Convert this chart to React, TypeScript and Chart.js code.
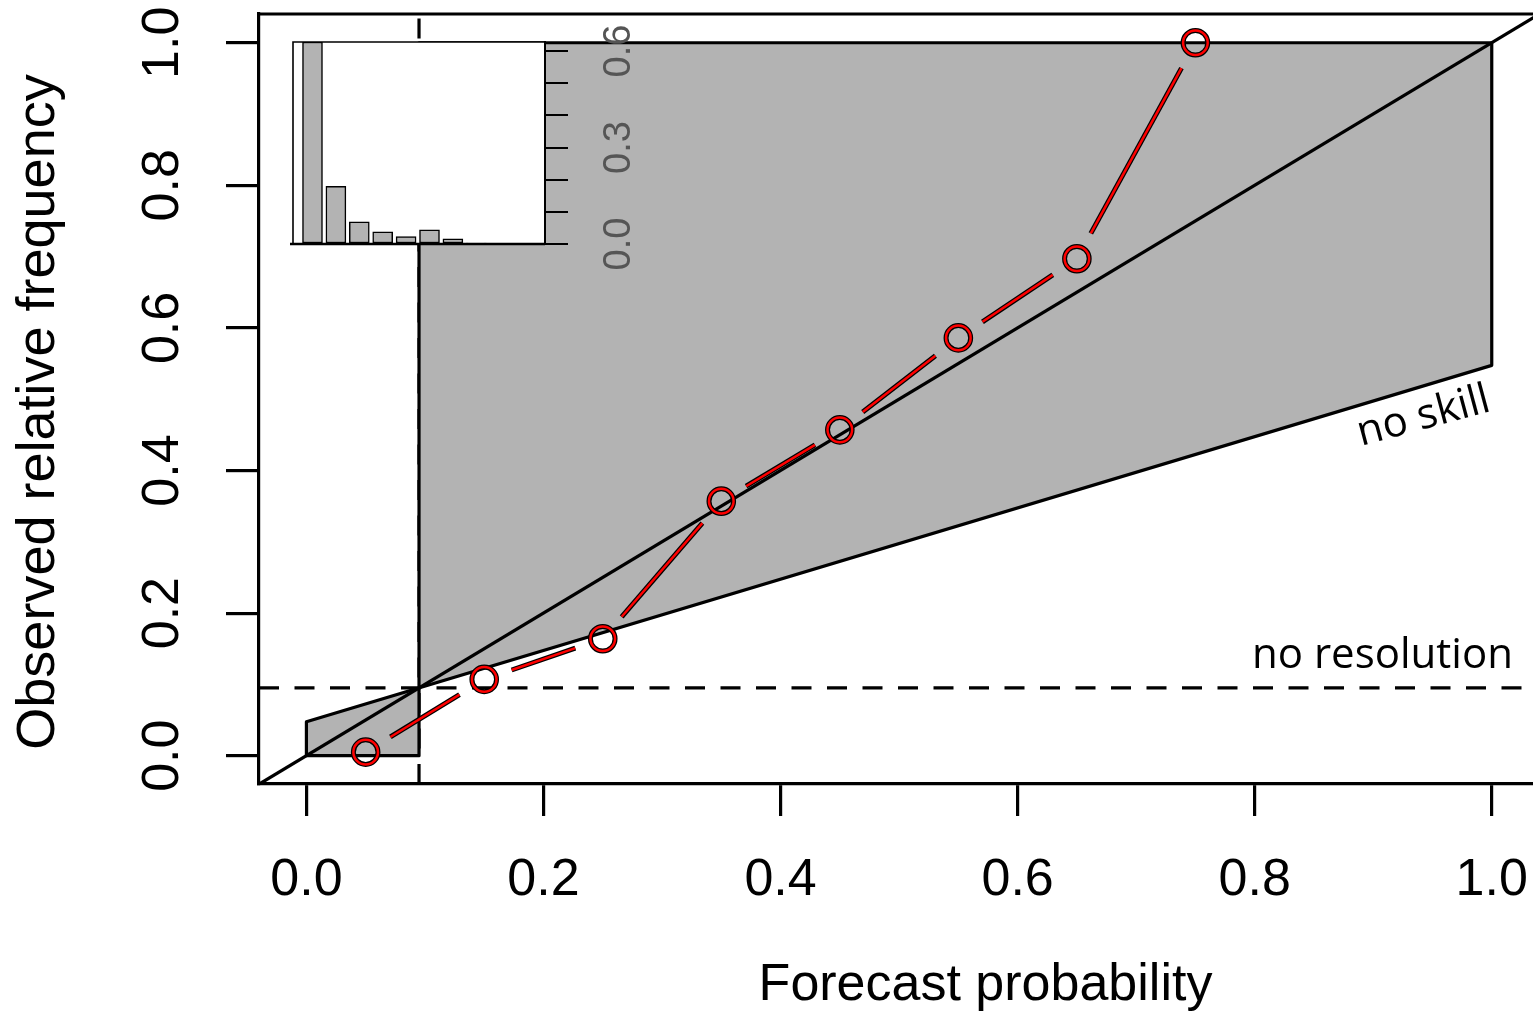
import React, { useEffect, useRef } from 'react';
import { Chart, registerables } from 'chart.js';

Chart.register(...registerables);

// ---------------- data ----------------
const forecastProb = [0.05, 0.15, 0.25, 0.35, 0.45, 0.55, 0.65, 0.75];
const observedFreq = [0.005, 0.107, 0.164, 0.357, 0.457, 0.586, 0.697, 1.0];
const climatology = 0.095;
const axisTicks = [0, 0.2, 0.4, 0.6, 0.8, 1.0];

const histBinCenters = [0.05, 0.15, 0.25, 0.35, 0.45, 0.55, 0.65, 0.75, 0.85, 0.95];
const histRelFreq = [0.628, 0.179, 0.069, 0.038, 0.023, 0.044, 0.016, 0.003, 0, 0];
const histTicks = [0, 0.1, 0.2, 0.3, 0.4, 0.5, 0.6];
const histLabelledTicks = [0, 0.3, 0.6];

const xTitle = 'Forecast probability';
const yTitle = 'Observed relative frequency';
const noSkillLabel = 'no skill';
const noResolutionLabel = 'no resolution';

// ---------------- styling ----------------
const X_MIN = -0.04;
const X_MAX = 1.0348;
const Y_MIN = -0.0397;
const Y_MAX = 1.0403;
const GRAY = '#B3B3B3';
const FONT = '"Liberation Sans", Arial, Helvetica, sans-serif';
const NOTE_FONT = '"Open Sans", "Noto Sans", sans-serif';
const GAP = 29;
const LW = 3.2;

const gapDash = (ctx: any) => {
  const dx = ctx.p1.x - ctx.p0.x;
  const dy = ctx.p1.y - ctx.p0.y;
  const L = Math.hypot(dx, dy);
  const on = Math.max(L - 2 * GAP, 0);
  return [0, GAP, on, L + GAP + 10];
};

const noSkillAt = (x: number) => climatology + (x - climatology) / 2;

function mainConfig(): any {
  const relPoints = forecastProb.map((x, i) => ({ x, y: observedFreq[i] }));
  const polygon = [
    { x: climatology, y: 0 },
    { x: climatology, y: 1 },
    { x: 1, y: 1 },
    { x: 1, y: noSkillAt(1) },
    { x: 0, y: noSkillAt(0) },
    { x: 0, y: 0 },
    { x: climatology, y: 0 },
  ];
  const fmt = (v: any) => Number(v).toFixed(1);

  const decor = {
    id: 'decor',
    afterDatasetsDraw(chart: any) {
      const { ctx, chartArea } = chart;
      ctx.save();
      ctx.strokeStyle = '#000';
      ctx.lineWidth = LW;
      ctx.beginPath();
      ctx.moveTo(chartArea.left - 1.5, chartArea.top);
      ctx.lineTo(chartArea.right + 2, chartArea.top);
      ctx.stroke();
      ctx.restore();
    },
    afterDraw(chart: any) {
      const ctx = chart.ctx;
      ctx.save();
      ctx.fillStyle = '#000';
      ctx.textAlign = 'center';
      ctx.textBaseline = 'alphabetic';
      ctx.font = `52px ${FONT}`;
      ctx.fillText(xTitle, 985.5, 1000);
      ctx.save();
      ctx.translate(54, 412);
      ctx.rotate(-Math.PI / 2);
      ctx.font = `54px ${FONT}`;
      ctx.fillText(yTitle, 0, 0);
      ctx.restore();

      ctx.font = `42px ${NOTE_FONT}`;
      ctx.textAlign = 'left';
      ctx.fillText(noResolutionLabel, 1252, 668);
      ctx.save();
      ctx.translate(1361, 446);
      ctx.rotate((-15 * Math.PI) / 180);
      ctx.fillText(noSkillLabel, 0, 0);
      ctx.restore();
      ctx.restore();
    },
  };

  return {
    type: 'line',
    data: {
      datasets: [
        {
          label: 'reliability',
          data: relPoints,
          borderColor: '#ff0000',
          borderWidth: 2.5,
          pointRadius: 12.3,
          pointHoverRadius: 12.3,
          pointBorderWidth: 2.5,
          pointBorderColor: '#ff0000',
          pointBackgroundColor: 'rgba(0,0,0,0)',
          segment: { borderDash: gapDash },
          fill: false,
          tension: 0,
          order: 1,
        },
        {
          label: 'reliability-outline',
          data: relPoints,
          borderColor: '#000',
          borderWidth: 5,
          pointRadius: 12.3,
          pointHoverRadius: 12.3,
          pointBorderWidth: 5,
          pointBorderColor: '#000',
          pointBackgroundColor: 'rgba(0,0,0,0)',
          segment: { borderDash: gapDash },
          fill: false,
          tension: 0,
          order: 2,
        },
        {
          label: 'perfect',
          data: [
            { x: -0.1, y: -0.1 },
            { x: 1.1, y: 1.1 },
          ],
          borderColor: '#000',
          borderWidth: LW,
          pointRadius: 0,
          fill: false,
          order: 3,
        },
        {
          label: 'no-skill region',
          data: polygon,
          borderColor: '#000',
          borderWidth: LW,
          backgroundColor: GRAY,
          borderJoinStyle: 'round',
          borderCapStyle: 'round',
          pointRadius: 0,
          fill: 'shape',
          tension: 0,
          order: 4,
        },
        {
          label: 'no resolution',
          data: [
            { x: X_MIN, y: climatology },
            { x: X_MAX, y: climatology },
          ],
          borderColor: '#000',
          borderWidth: LW,
          borderDash: [20, 15.5],
          pointRadius: 0,
          fill: false,
          order: 5,
        },
        {
          label: 'climatology',
          data: [
            { x: climatology, y: Y_MIN },
            { x: climatology, y: Y_MAX },
          ],
          borderColor: '#000',
          borderWidth: LW,
          borderDash: [20, 15.5],
          pointRadius: 0,
          fill: false,
          order: 6,
        },
      ],
    },
    options: {
      animation: false,
      responsive: false,
      devicePixelRatio: 1,
      events: [],
      layout: { autoPadding: false, padding: { top: 14, left: 0, right: 0, bottom: 0 } },
      plugins: { legend: { display: false }, tooltip: { enabled: false } },
      scales: {
        x: {
          type: 'linear',
          min: X_MIN,
          max: X_MAX,
          afterBuildTicks: (s: any) => {
            s.ticks = axisTicks.map((v) => ({ value: v }));
          },
          afterFit: (s: any) => {
            s.height = 230;
            s.paddingLeft = 0;
            s.paddingRight = 0;
          },
          ticks: {
            callback: fmt,
            autoSkip: false,
            maxRotation: 0,
            minRotation: 0,
            padding: 33,
            color: '#000',
            font: { family: FONT, size: 52 },
          },
          grid: { drawOnChartArea: false, drawTicks: true, tickLength: 32, color: '#000', lineWidth: LW },
          border: { display: true, color: '#000', width: LW },
        },
        y: {
          type: 'linear',
          min: Y_MIN,
          max: Y_MAX,
          afterBuildTicks: (s: any) => {
            s.ticks = axisTicks.map((v) => ({ value: v }));
          },
          afterFit: (s: any) => {
            s.width = 259;
            s.paddingTop = 0;
            s.paddingBottom = 0;
          },
          ticks: {
            callback: fmt,
            autoSkip: false,
            minRotation: 90,
            maxRotation: 90,
            crossAlign: 'center',
            padding: 26,
            color: '#000',
            font: { family: FONT, size: 52 },
          },
          grid: { drawOnChartArea: false, drawTicks: true, tickLength: 33, color: '#000', lineWidth: LW },
          border: { display: true, color: '#000', width: LW },
        },
      },
    },
    plugins: [decor],
  };
}

function insetConfig(): any {
  const bars = histBinCenters.map((x, i) => ({ x, y: histRelFreq[i] }));
  const frame = {
    id: 'insetFrame',
    beforeDraw(chart: any) {
      const { ctx, chartArea } = chart;
      ctx.save();
      ctx.fillStyle = '#fff';
      ctx.fillRect(chartArea.left, chartArea.top, chartArea.right - chartArea.left, chartArea.bottom - chartArea.top);
      ctx.restore();
    },
    afterDatasetsDraw(chart: any) {
      const { ctx, chartArea } = chart;
      ctx.save();
      ctx.strokeStyle = '#000';
      ctx.lineWidth = 1.6;
      ctx.beginPath();
      ctx.moveTo(chartArea.left, chartArea.bottom);
      ctx.lineTo(chartArea.left, chartArea.top);
      ctx.lineTo(chartArea.right, chartArea.top);
      ctx.stroke();
      ctx.lineWidth = 2.6;
      ctx.beginPath();
      ctx.moveTo(chartArea.left - 3, chartArea.bottom);
      ctx.lineTo(chartArea.right, chartArea.bottom);
      ctx.stroke();
      ctx.restore();
    },
  };
  return {
    type: 'bar',
    data: {
      datasets: [
        {
          label: 'forecast frequency',
          data: bars,
          backgroundColor: GRAY,
          borderColor: '#000',
          borderWidth: 1.5,
          borderSkipped: false,
          barThickness: 20,
        },
      ],
    },
    options: {
      animation: false,
      responsive: false,
      devicePixelRatio: 1,
      events: [],
      layout: { autoPadding: false, padding: { left: 13, top: 42, right: 0, bottom: 46 } },
      plugins: { legend: { display: false }, tooltip: { enabled: false } },
      scales: {
        x: { type: 'linear', min: -0.0333, max: 1.0436, display: false, offset: false },
        y: {
          type: 'linear',
          position: 'right',
          min: 0,
          max: 0.628,
          afterBuildTicks: (s: any) => {
            s.ticks = histTicks.map((v) => ({ value: v }));
          },
          afterFit: (s: any) => {
            s.width = 115;
            s.paddingTop = 0;
            s.paddingBottom = 0;
          },
          ticks: {
            callback: (v: any) =>
              histLabelledTicks.some((t) => Math.abs(t - Number(v)) < 1e-6) ? Number(v).toFixed(1) : '',
            autoSkip: false,
            minRotation: 90,
            maxRotation: 90,
            crossAlign: 'center',
            padding: 25,
            color: '#555',
            font: { family: FONT, size: 38 },
          },
          grid: { drawOnChartArea: false, drawTicks: true, tickLength: 23, color: '#000', lineWidth: 2 },
          border: { display: true, color: '#000', width: 2 },
        },
      },
    },
    plugins: [frame],
  };
}

export default function App() {
  const mainRef = useRef<HTMLCanvasElement>(null);
  const insetRef = useRef<HTMLCanvasElement>(null);

  useEffect(() => {
    const main = new Chart(mainRef.current as HTMLCanvasElement, mainConfig());
    const inset = new Chart(insetRef.current as HTMLCanvasElement, insetConfig());
    return () => {
      main.destroy();
      inset.destroy();
    };
  }, []);

  return (
    <div style={{ position: 'absolute', left: 0, top: 0, width: 1533, height: 1014, background: '#fff', overflow: 'hidden' }}>
      <canvas ref={mainRef} width={1533} height={1014} style={{ position: 'absolute', left: 0, top: 0 }} />
      <canvas ref={insetRef} width={380} height={290} style={{ position: 'absolute', left: 280, top: 0 }} />
    </div>
  );
}
